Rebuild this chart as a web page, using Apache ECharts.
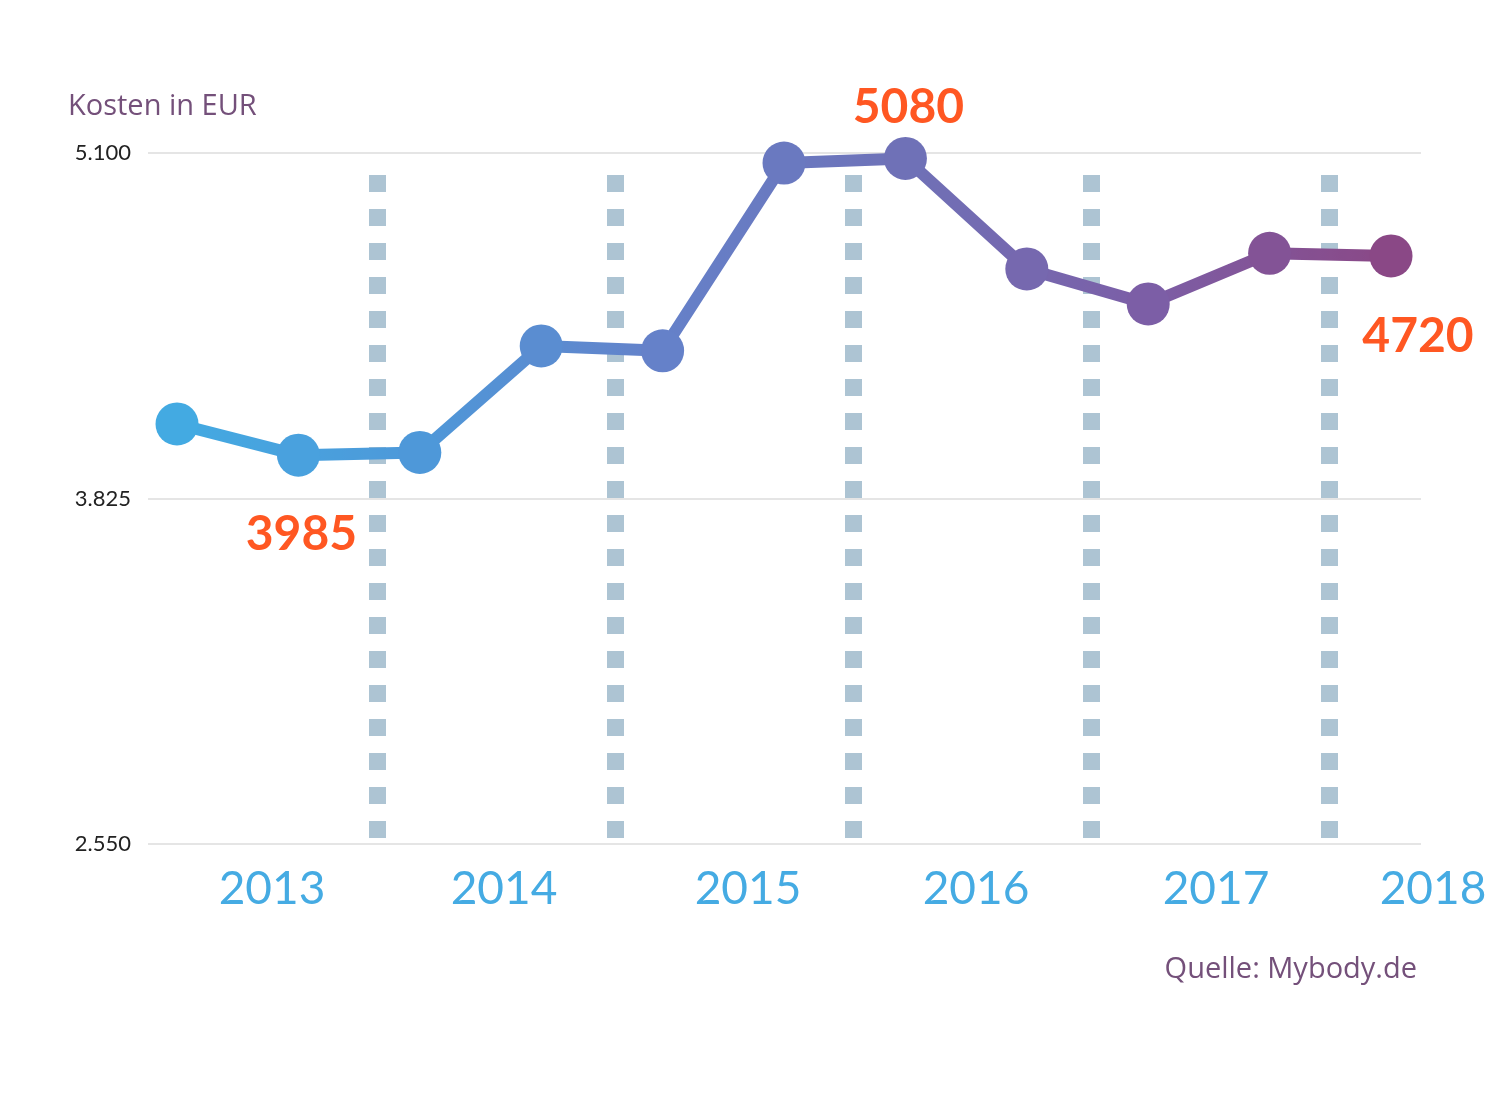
<!DOCTYPE html>
<html>
<head>
<meta charset="utf-8">
<script src="https://cdn.jsdelivr.net/npm/echarts@6/dist/echarts.min.js"></script>
<style>
html,body{margin:0;padding:0;background:#fff;}
#chart{width:1500px;height:1100px;}
</style>
</head>
<body>
<div id="chart"></div>
<script>
// ---- data ----
var pointIndex = [0, 1, 2, 3, 4, 5, 6, 7, 8, 9, 10];
var costValues = [4100, 3985, 3995, 4388, 4370, 5063, 5080, 4672, 4543, 4730, 4720];
var years = ['2013', '2014', '2015', '2016', '2017', '2018'];
var yTicks = [2550, 3825, 5100];
var highlighted = [1, 6, 10];
var titleText = 'Kosten in EUR';
var sourceText = 'Quelle: Mybody.de';

var FONT = 'Lato, "Open Sans", sans-serif';
var TFONT = '"Open Sans", Lato, sans-serif';
var labelOffsets = {1: [3, 79], 6: [3, -51], 10: [27, 81]};
var yearPad = {'2013': 28, '2014': 16, '2015': 28, '2016': 8, '2017': 12, '2018': -30};

var seriesData = pointIndex.map(function (i) {
  var d = {value: [i, costValues[i]]};
  if (highlighted.indexOf(i) >= 0) {
    d.label = {
      show: true, position: 'inside', offset: labelOffsets[i],
      formatter: String(costValues[i]),
      color: '#ff5722', fontSize: 48, fontWeight: 'bold', fontFamily: FONT
    };
  }
  return d;
});

var rich = {};
years.forEach(function (y) {
  var p = yearPad[y];
  rich['y' + y] = {
    color: '#45abe3', fontSize: 46, fontFamily: FONT,
    padding: p >= 0 ? [0, 0, 0, p] : [0, -p, 0, 0]
  };
});

var chart = echarts.init(document.getElementById('chart'), null, {renderer: 'canvas'});
chart.setOption({
  backgroundColor: '#ffffff',
  animation: false,
  title: [
    {text: titleText, left: 63, top: 87, textStyle: {color: '#74507a', fontSize: 29, fontWeight: 'normal', fontFamily: TFONT}},
    {text: sourceText, right: 78, top: 950, textStyle: {color: '#74507a', fontSize: 29, fontWeight: 'normal', fontFamily: TFONT}}
  ],
  visualMap: {
    show: false, type: 'continuous', dimension: 0, seriesIndex: 0,
    min: 0, max: 10,
    inRange: {color: ['#43aae2', '#4e98d9', '#6581c9', '#6f71b7', '#7c5ea6', '#8a4886']}
  },
  grid: [
    {left: 148, right: 79, top: 153, bottom: 256},
    {left: 139, width: 1428, top: 175, height: 663, outerBoundsMode: 'none', containLabel: false}
  ],
  xAxis: [
    {
      type: 'value', gridIndex: 0, min: -0.239, max: 10.247,
      axisLine: {show: false}, axisTick: {show: false}, axisLabel: {show: false}, splitLine: {show: false}
    },
    {
      type: 'category', gridIndex: 1, data: years, boundaryGap: true,
      axisLine: {show: false}, axisTick: {show: false},
      axisLabel: {
        margin: 28, interval: 0,
        formatter: function (v) { return '{y' + v + '|' + v + '}'; },
        rich: rich
      },
      splitLine: {show: true, interval: 0, showMinLine: false, showMaxLine: false,
        lineStyle: {color: '#adc4d3', width: 17, type: [17, 17]}}
    }
  ],
  yAxis: [
    {
      type: 'value', gridIndex: 0, min: yTicks[0], max: yTicks[yTicks.length - 1],
      interval: yTicks[1] - yTicks[0],
      axisLine: {show: false}, axisTick: {show: false},
      axisLabel: {
        color: '#222', fontSize: 22, fontFamily: FONT, margin: 17,
        formatter: function (v) { return v.toLocaleString('de-DE'); }
      },
      splitLine: {lineStyle: {color: '#dcdcdc', width: 1.5}}
    },
    {
      type: 'value', gridIndex: 1, min: 0, max: 1, show: false
    }
  ],
  series: [
    {
      type: 'line', xAxisIndex: 0, yAxisIndex: 0,
      data: seriesData,
      symbol: 'circle', symbolSize: 43,
      lineStyle: {width: 12},
      z: 5
    }
  ]
});
</script>
</body>
</html>
